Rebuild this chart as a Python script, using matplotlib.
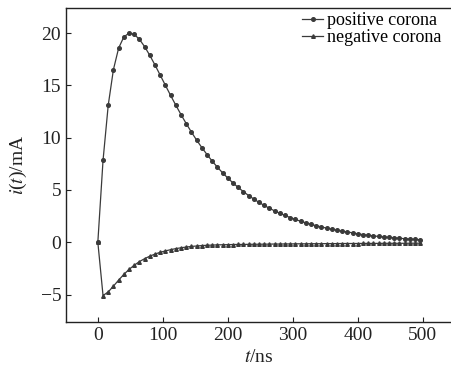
import numpy as np
import matplotlib
matplotlib.use("Agg")
import matplotlib.pyplot as plt

plt.rcParams['font.family'] = ['Liberation Serif', 'DejaVu Serif']
plt.rcParams['mathtext.fontset'] = 'stix'

# tiempo en ns (marcadores cada 8 ns)
t = np.arange(0, 504, 8)

# corriente de corona positiva (mA)
positiva = [0.00, 7.83, 13.11, 16.52, 18.57, 19.64, 20.00, 19.88, 19.41, 18.71,
            17.87, 16.95, 15.98, 15.01, 14.04, 13.11, 12.21, 11.35, 10.54, 9.77,
            9.06, 8.39, 7.76, 7.18, 6.64, 6.14, 5.67, 5.24, 4.84, 4.47,
            4.13, 3.81, 3.52, 3.25, 3.00, 2.77, 2.56, 2.36, 2.18, 2.01,
            1.86, 1.72, 1.58, 1.46, 1.35, 1.25, 1.15, 1.06, 0.98, 0.90,
            0.80, 0.73, 0.67, 0.61, 0.55, 0.50, 0.46, 0.42, 0.38, 0.34,
            0.30, 0.27, 0.24]

# corriente de corona negativa (mA)
negativa = [0.00, -5.10, -4.75, -4.20, -3.62, -3.08, -2.60, -2.20, -1.85, -1.57,
            -1.33, -1.13, -0.96, -0.83, -0.71, -0.61, -0.53, -0.46, -0.40, -0.36,
            -0.32, -0.29, -0.27, -0.25, -0.24, -0.23, -0.22, -0.21, -0.21, -0.20,
            -0.19, -0.19, -0.18, -0.18, -0.17, -0.17, -0.16, -0.16, -0.15, -0.15,
            -0.15, -0.14, -0.14, -0.14, -0.13, -0.13, -0.13, -0.12, -0.12, -0.12,
            -0.12, -0.11, -0.11, -0.11, -0.11, -0.10, -0.10, -0.10, -0.10, -0.10,
            -0.09, -0.09, -0.09]

xticks = [0, 100, 200, 300, 400, 500]
yticks = [-5, 0, 5, 10, 15, 20]

color = '#3a3a3a'

fig = plt.figure(figsize=(4.52, 3.74), dpi=100)
ax = fig.add_axes([0.146, 0.139, 0.854, 0.840])

ax.plot(t, positiva, color=color, lw=0.9, marker='o', ms=2.6, label='positive corona')
ax.plot(t, negativa, color=color, lw=0.9, marker='^', ms=2.6, label='negative corona')

ax.set_xlim(-49, 545)
ax.set_ylim(-7.63, 22.42)
ax.set_xticks(xticks)
ax.set_yticks(yticks)
ax.set_yticklabels(['\u22125', '0', '5', '10', '15', '20'])
ax.tick_params(direction='in', length=3.5, width=0.8, labelsize=14, colors='#222222')
ax.spines['right'].set_visible(False)
for s in ['left', 'bottom', 'top']:
    ax.spines[s].set_linewidth(1.0)
    ax.spines[s].set_color('#222222')

ax.set_xlabel(r'$t$/ns', fontsize=14, labelpad=4, color='#222222')
ax.set_ylabel(r'$i$($t$)/mA', fontsize=14, labelpad=8, color='#222222')

ax.legend(loc='upper right', bbox_to_anchor=(0.99, 1.01), frameon=False, fontsize=13,
          handlelength=1.15, handletextpad=0.2, labelspacing=0.0, borderaxespad=0.0)

fig.savefig('out.png', dpi=100)
